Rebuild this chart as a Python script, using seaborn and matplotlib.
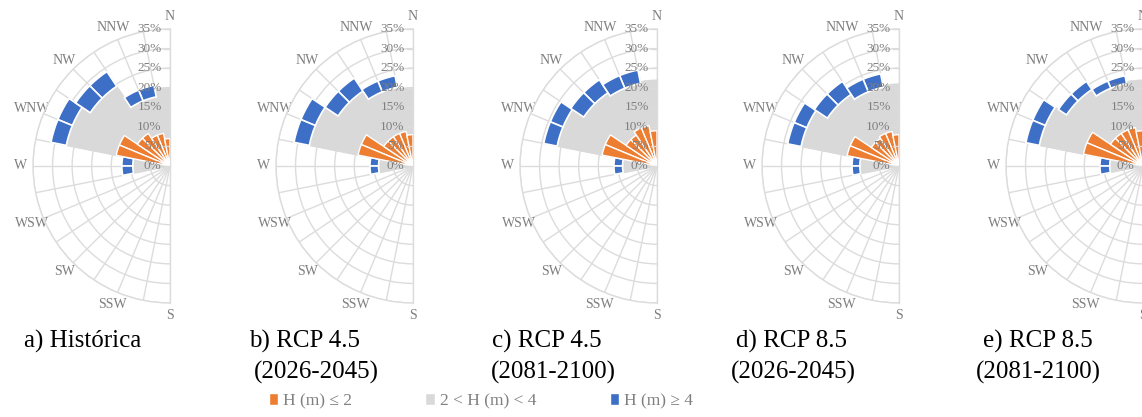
import numpy as np
import matplotlib
matplotlib.use("Agg")
import matplotlib.pyplot as plt
import seaborn as sns
from matplotlib.patches import Patch
from matplotlib.lines import Line2D
from matplotlib.transforms import offset_copy

# compass labels shown on the west half of each rose
compass = ["N", "NNW", "NW", "WNW", "W", "WSW", "SW", "SSW", "S"]
# directions that carry bars (angle measured from N towards W)
bar_dirs = ["N", "NNW", "NW", "WNW", "W"]
bar_angles = [0, 22.5, 45, 67.5, 90]

titles = ["a) Histórica", "b) RCP 4.5", "c) RCP 4.5", "d) RCP 8.5", "e) RCP 8.5"]
periods = ["", "(2026-2045)", "(2081-2100)", "(2026-2045)", "(2081-2100)"]

# outer radius (%) of each class, per panel, for N, NNW, NW, WNW, W
h_le2 = [
    [7.0, 8.5, 10.0, 14.0, 0.0],
    [8.0, 9.0, 9.0, 14.3, 0.0],
    [9.0, 10.5, 9.5, 14.3, 0.0],
    [8.0, 9.0, 8.5, 13.5, 0.0],
    [9.0, 10.0, 10.0, 15.5, 0.0],
]
h_2_4 = [
    [20.0, 18.0, 24.5, 27.0, 9.5],
    [20.0, 20.5, 23.0, 27.0, 8.8],
    [22.0, 21.5, 22.5, 26.0, 8.8],
    [21.0, 20.5, 22.0, 25.5, 10.0],
    [22.0, 21.5, 23.5, 27.0, 8.5],
]
h_ge4 = [
    [20.0, 21.0, 29.0, 31.0, 12.3],
    [20.0, 23.5, 27.0, 31.0, 11.0],
    [22.0, 25.0, 26.5, 29.5, 11.0],
    [21.0, 24.0, 26.0, 29.0, 12.0],
    [22.0, 23.5, 26.0, 30.5, 11.0],
]

rings = [0, 5, 10, 15, 20, 25, 30, 35]

sns.set_theme(style="white")
plt.rcParams["font.family"] = ["Liberation Serif", "DejaVu Serif"]

c_low, c_mid, c_high = "#ED7D31", "#D9D9D9", "#3D6FC6"
grid_c = "#DCDCDC"
txt_c = "#7F7F7F"

W, H = 1142, 417
fig = plt.figure(figsize=(W / 100, H / 100), dpi=100)

centers_x = [170, 413, 657, 899, 1143]
cy, R = 166, 137

for i, cx in enumerate(centers_x):
    rect = [(cx - 1.5 * R) / W, (H - cy - R) / H, 2 * R / W, 2 * R / H]
    ax = fig.add_axes(rect, projection="polar")
    ax.set_theta_zero_location("N")
    ax.set_theta_direction(1)
    ax.set_thetamin(0)
    ax.set_thetamax(180)
    ax.set_ylim(0, 35)

    th = np.deg2rad(bar_angles)
    half = np.deg2rad(11.25)
    low = np.array(h_le2[i])
    mid = np.array(h_2_4[i])
    high = np.array(h_ge4[i])
    top = high - mid
    for side in (-0.5, 0.5):
        pos = th + side * half
        ax.bar(pos, mid, width=half, color=c_mid, edgecolor=c_mid, linewidth=0.5, zorder=2)
        keep = top > 0
        ax.bar(pos[keep], top[keep], width=half, bottom=mid[keep], color=c_high,
               edgecolor="white", linewidth=1.2, zorder=3)
        keep = low > 0
        ax.bar(pos[keep], low[keep], width=half, color=c_low,
               edgecolor="white", linewidth=1.0, zorder=4)

    spokes = np.arange(0, 180.01, 11.25)
    ax.set_xticks(np.deg2rad(spokes))
    ax.set_xticklabels([compass[k // 2] if k % 2 == 0 else "" for k in range(len(spokes))])
    ax.tick_params(axis="x", pad=-4, labelsize=10, labelcolor=txt_c)
    ax.set_yticks(rings[1:])
    ax.set_yticklabels([])
    ax.grid(True, color=grid_c, linewidth=1.0)
    ax.set_axisbelow(True)
    for sp in ax.spines.values():
        sp.set_color(grid_c)
        sp.set_linewidth(1.0)
    ax.spines["inner"].set_visible(False)

    # percentage labels with short tick marks along the N axis
    shift = offset_copy(ax.transData, fig=fig, x=-6, y=0, units="points")
    tick_tr = offset_copy(ax.transData, fig=fig, x=0, y=0, units="points")
    for r in rings:
        ax.text(0, r, f"{r}%", transform=shift, ha="right", va="center",
                fontsize=9.5, color=txt_c, zorder=5, clip_on=False)
        x0, y0 = ax.transData.transform((0, r))
        fig.add_artist(Line2D([(x0 - 6) / W, x0 / W], [y0 / H, y0 / H],
                              transform=fig.transFigure, color=grid_c, lw=1.0))

title_x = [83, 305, 547, 792, 1038]
period_x = [83, 316, 553, 793, 1038]
for t, p, tx, px in zip(titles, periods, title_x, period_x):
    fig.text(tx / W, 1 - 341 / H, t, ha="center", va="center", fontsize=18, color="black")
    if p:
        fig.text(px / W, 1 - 372 / H, p, ha="center", va="center", fontsize=18, color="black")

handles = [Patch(facecolor=c) for c in (c_low, c_mid, c_high)]
fig.legend(handles, ["H (m) ≤ 2", "2 < H (m) < 4", "H (m) ≥ 4"],
           loc="center", bbox_to_anchor=(481 / W, 1 - 401 / H), ncol=3, frameon=False,
           fontsize=12.5, labelcolor=txt_c, handlelength=0.55, handleheight=0.7,
           handletextpad=0.3, columnspacing=4.2)

fig.savefig("out.png", dpi=100, facecolor="white")
